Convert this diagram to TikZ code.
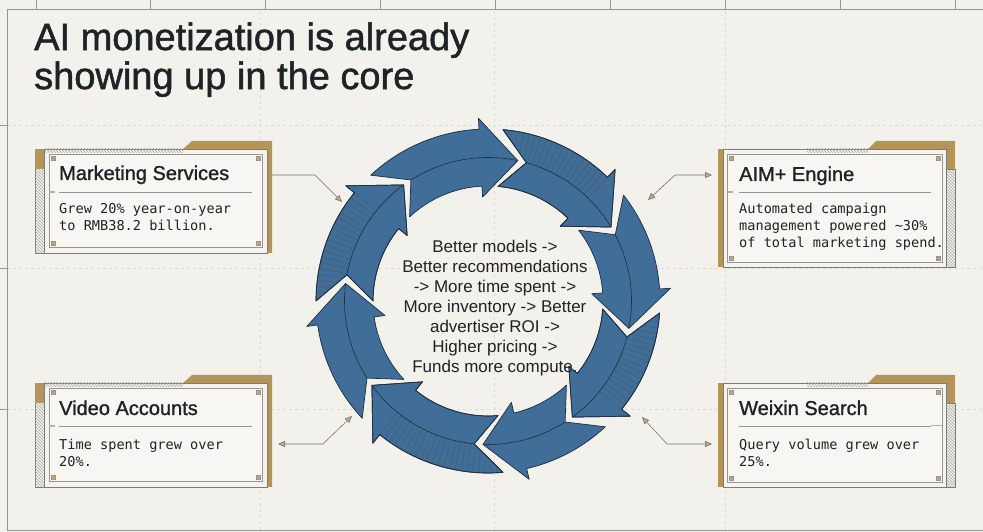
\documentclass[tikz,border=0pt]{standalone}
\usepackage{fontspec}
\setmainfont{Liberation Sans}
\setmonofont{DejaVu Sans Mono}
\newfontfamily\headsans[FakeBold=1.3]{Liberation Sans}
\usepackage{xcolor}
\definecolor{PaperBg}{HTML}{F2F1EC}
\definecolor{CardBg}{HTML}{F4F3EE}
\definecolor{CardInner}{HTML}{F7F6F2}
\definecolor{CardGold}{HTML}{B59459}
\definecolor{FrameGray}{HTML}{7C7B76}
\definecolor{GridGray}{HTML}{DCDBD5}
\definecolor{InkDark}{HTML}{1E2328}
\definecolor{RingBlue}{HTML}{406E99}
\definecolor{RingEdge}{HTML}{1D2E40}
\definecolor{LinkGray}{HTML}{77736A}
\usepackage{tikz}
\usetikzlibrary{arrows.meta,patterns}

% ring radii (pt)
\def\Rout{172}
\def\Rin{115}
\def\Rmid{143.5}

% one curved arrow of the loop: #1 tail angle, #2 tip angle (clockwise)
\newcommand{\looppath}[2]{(#1:\Rout) arc[start angle=#1, end angle=#2+15, radius=\Rout pt]
  -- ({#2+15}:{\Rout+11}) -- (#2:\Rmid) -- ({#2+15}:{\Rin-11}) -- ({#2+15}:\Rin)
  arc[start angle=#2+15, end angle=#1, radius=\Rin pt] -- ({#1-10.5}:\Rmid) -- cycle}

\newcommand{\loopseg}[2]{%
  \filldraw[loopseg] \looppath{#1}{#2};
  \draw[ridge] ({#1-10.5}:\Rmid) arc[start angle=#1-10.5, end angle=#2, radius=\Rmid pt];}

\newcommand{\loopsegh}[2]{%
  \filldraw[loopseg] \looppath{#1}{#2};
  \begin{scope}
    \clip \looppath{#1}{#2};
    \pgfmathsetmacro\hatchfrom{#2+15}
    \pgfmathsetmacro\hatchnext{#2+17}
    \foreach \a in {\hatchfrom,\hatchnext,...,#1}
      \draw[hatchline] (\a:\Rmid) -- (\a:{\Rout+3});
  \end{scope}
  \draw[loopedge] \looppath{#1}{#2};
  \draw[ridge] ({#1-10.5}:\Rmid) arc[start angle=#1-10.5, end angle=#2, radius=\Rmid pt];}

% card on the left: #1 name, #2 top edge, #3 bottom edge
\newcommand{\leftcard}[3]{%
  \fill[CardGold] (183,#2) -- (192,#2+8) -- (272,#2+8) -- (272,#3) -- (267,#3) -- (267,#2) -- cycle;
  \node[card, minimum width=232pt, minimum height={(#2-#3)*1pt}] (#1) at (151,{(#2+#3)/2}) {};
  \fill[CardGold] (35,#2) rectangle (44,#2-20);
  \fill[hatchfill] (35,#2-20) rectangle (44,#3);
  \fill[hatchfill] (44,#2) rectangle (183,#2-4);
  \draw[FrameGray, line width=0.7pt] (44,#2) -- (44,#3);
  \draw[innercard] (49,#2-5) rectangle (262,#3+6);
  \foreach \cx/\cy in {53/#2-9, 258/#2-9, 53/#3+10, 258/#3+10}
    \filldraw[cornerdot] (\cx,\cy) ++(-2.3,-2.3) rectangle ++(4.6,4.6);
  \draw[divider] (59,#2-43) -- (252,#2-43);
  \draw[FrameGray!60, line width=2pt] (49,#2-43) -- (55,#2-43);}

% card on the right: #1 name, #2 top edge, #3 bottom edge
\newcommand{\rightcard}[3]{%
  \fill[CardGold] (718,#2) rectangle (723,#3);
  \fill[CardGold] (868,#2) -- (876,#2+8) -- (955,#2+8) -- (955,#2-20) -- (946,#2-20) -- (946,#2) -- cycle;
  \node[card, minimum width=223pt, minimum height={(#2-#3)*1pt}] (#1) at (834.5,{(#2+#3)/2}) {};
  \filldraw[hatchfill, draw=FrameGray, line width=0.7pt] (946,#2-20) rectangle (955,#3);
  \fill[hatchfill] (807,#2) rectangle (868,#2-4);
  \draw[innercard] (727,#2-5) rectangle (942,#3+5);
  \foreach \cx/\cy in {731/#2-9, 938/#2-9, 731/#3+9, 938/#3+9}
    \filldraw[cornerdot] (\cx,\cy) ++(-2.3,-2.3) rectangle ++(4.6,4.6);
  \draw[divider] (739,#2-43) -- (931,#2-43);}

\begin{document}
\begin{tikzpicture}[x=1pt, y=1pt,
  card/.style={draw=FrameGray, fill=CardBg, line width=0.7pt, inner sep=0, outer sep=0},
  innercard/.style={draw=FrameGray!80, fill=CardInner, line width=0.7pt},
  hatchfill/.style={pattern=north west lines, pattern color=FrameGray!70},
  cornerdot/.style={fill=CardGold!85, draw=FrameGray!80, line width=0.3pt},
  divider/.style={draw=FrameGray!80, line width=0.6pt},
  cardtitle/.style={anchor=base west, inner sep=0, text=InkDark, font=\headsans\fontsize{20}{24}\selectfont},
  cardbody/.style={anchor=north west, inner sep=0, align=left, text=InkDark, font=\ttfamily\fontsize{13.6}{17}\selectfont},
  loopseg/.style={fill=RingBlue, draw=RingEdge, line width=0.7pt, line join=round},
  loopedge/.style={draw=RingEdge, line width=0.7pt, line join=round},
  ridge/.style={draw=RingEdge, line width=0.6pt},
  hatchline/.style={draw=RingEdge!80, line width=0.4pt},
  link/.style={draw=LinkGray, line width=0.6pt, -{Triangle[length=7pt, width=6pt, fill=CardGold!80]}},
  link2/.style={draw=LinkGray, line width=0.6pt, {Triangle[length=7pt, width=6pt, fill=CardGold!80]}-{Triangle[length=7pt, width=6pt, fill=CardGold!80]}},
]
\useasboundingbox (0,0) rectangle (983,532);
\fill[PaperBg] (0,0) rectangle (983,532);

% faint grid
\foreach \gy in {407,264,123}
  \draw[GridGray, dashed, line width=0.5pt] (7,\gy) -- (983,\gy);
\foreach \gx in {260,494,725}
  \draw[GridGray, dashed, line width=0.5pt] (\gx,2) -- (\gx,523);

% outer frame with ticks
\draw[FrameGray!80, line width=0.8pt] (983,523) -- (7,523) -- (7,2) -- (983,2);
\foreach \tx in {36,150,265,380,495,610,725,840,955}
  \draw[FrameGray!80, line width=0.8pt] (\tx,523) -- (\tx,532);
\foreach \ty in {407,264,123}
  \draw[FrameGray!80, line width=0.8pt] (0,\ty) -- (7,\ty);

% headline
\node[anchor=north west, inner sep=0, align=left, text=InkDark, font=\headsans\fontsize{38}{39}\selectfont] (headline) at (34,509.7) {AI monetization is already\\showing up in the core};

% the loop
\begin{scope}[shift={(488,231)}]
  \loopseg{133}{78}
  \loopsegh{85}{31}
  \loopseg{38}{-11}
  \loopsegh{-4}{-54}
  \loopseg{-47}{-92}
  \loopsegh{-85}{-144}
  \loopseg{-137}{-187}
  \loopsegh{-180}{-234}
  \coordinate (msring) at (-146,99);
  \coordinate (aimring) at (160,101);
  \coordinate (varing) at (-136,-115);
  \coordinate (wsring) at (154,-116);
\end{scope}

\node[inner sep=0, align=center, text=InkDark, font=\fontsize{17}{20}\selectfont] (loop) at (495,223.4) {Better models ->\\Better recommendations\\-> More time spent ->\\More inventory -> Better\\advertiser ROI ->\\Higher pricing ->\\Funds more compute.};

% cards
\leftcard{msframe}{383}{279}
\node[cardtitle] (mstitle) at (59,352) {Marketing Services};
\node[cardbody] (msbody) at (59,328.6) {Grew 20\% year-on-year\\to RMB38.2 billion.};

\rightcard{aimframe}{383}{265}
\draw[FrameGray!60, line width=2pt] (727,340) -- (733,340);
\node[cardtitle] (aimtitle) at (739,351) {AIM+ Engine};
\node[cardbody] (aimbody) at (739,328.6) {Automated campaign\\management powered \textasciitilde30\%\\of total marketing spend.};

\leftcard{vaframe}{149}{45}
\node[cardtitle] (vatitle) at (59,117) {Video Accounts};
\node[cardbody] (vabody) at (59,93.2) {Time spent grew over\\20\%.};

\rightcard{wsframe}{149}{45}
\draw[FrameGray!60, line width=1pt] (931,106) -- (942,106);
\node[cardtitle] (wstitle) at (739,117) {Weixin Search};
\node[cardbody] (wsbody) at (739,93.4) {Query volume grew over\\25\%.};

% connectors
\draw[link] ([xshift=5pt, yshift=26pt]msframe.east) -- ++(43,0) -- (msring);
\draw[link2] (aimring) -- ++(27,25) -- ([xshift=-11pt, yshift=33pt]aimframe.west);
\draw[link2] ([xshift=11pt, yshift=-9pt]vaframe.east) -- ++(45,0) -- (varing);
\draw[link2] (wsring) -- ++(25,-27) -- ([xshift=-11pt, yshift=-9pt]wsframe.west);
\end{tikzpicture}
\end{document}
